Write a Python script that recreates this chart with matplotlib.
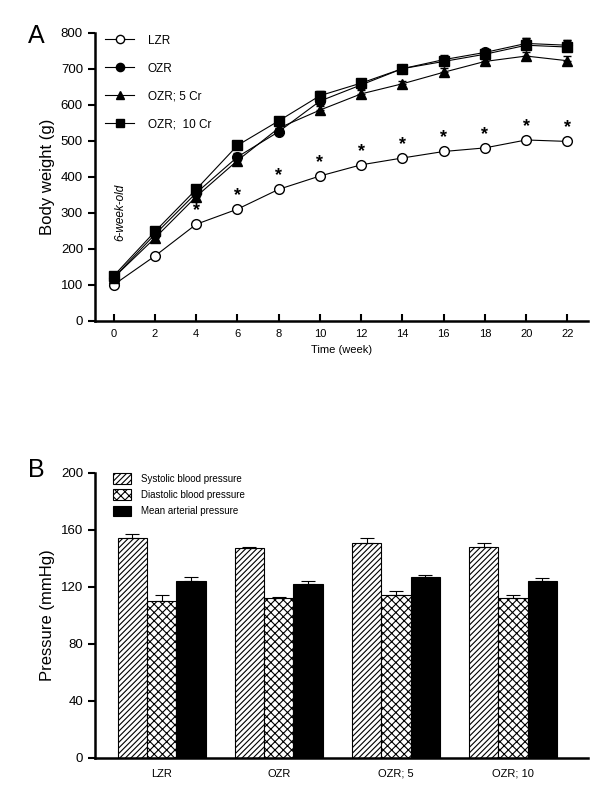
import numpy as np
import matplotlib
matplotlib.use("Agg")
import matplotlib.pyplot as plt

plt.rcParams['font.family'] = ['Liberation Sans', 'DejaVu Sans']
plt.rcParams['hatch.linewidth'] = 0.8

# panel A data: body weight (g) over time
weeks = [0, 2, 4, 6, 8, 10, 12, 14, 16, 18, 20, 22]
lzr = [100, 180, 268, 310, 365, 402, 433, 452, 470, 480, 502, 498]
ozr = [120, 240, 355, 455, 525, 610, 655, 700, 725, 745, 770, 765]
ozr5 = [120, 230, 345, 445, 535, 585, 630, 658, 690, 720, 735, 722]
ozr10 = [125, 248, 365, 487, 555, 625, 660, 700, 720, 740, 765, 760]
lzr_err = [5, 6, 6, 6, 6, 6, 6, 6, 6, 6, 8, 8]
ozr_err = [8, 8, 10, 10, 10, 12, 10, 8, 12, 10, 15, 15]
ozr5_err = [8, 8, 10, 10, 10, 12, 10, 8, 12, 10, 12, 12]
ozr10_err = [8, 8, 10, 10, 10, 12, 10, 8, 15, 10, 20, 20]
star_weeks = [2, 4, 6, 8, 10, 12, 14, 16, 18, 20, 22]

# panel B data: blood pressure (mmHg)
groups = ['LZR', 'OZR', 'OZR; 5', 'OZR; 10']
systolic = [154, 147, 151, 148]
diastolic = [110, 112, 114, 112]
mean_ap = [124, 122, 127, 124]
systolic_err = [3, 1, 3, 2.5]
diastolic_err = [4, 1, 3, 2]
mean_err = [3, 2, 1, 2]

fig = plt.figure(figsize=(6, 7.96), dpi=100)

# ---- panel A
ax1 = fig.add_axes([0.158, 0.597, 0.822, 0.362])
series = [
    (lzr, lzr_err, 'o', 'white', 'LZR'),
    (ozr, ozr_err, 'o', 'black', 'OZR'),
    (ozr5, ozr5_err, '^', 'black', 'OZR; 5 Cr'),
    (ozr10, ozr10_err, 's', 'black', 'OZR;  10 Cr'),
]
handles = []
labels = []
for vals, err, mk, fc, lab in series:
    c = ax1.errorbar(weeks, vals, yerr=[np.zeros(len(err)), err], color='black',
                     marker=mk, mfc=fc, mec='black', ms=7, lw=0.8,
                     capsize=3, elinewidth=0.8)
    handles.append(c[0])
    labels.append(lab)

star_offset = 38
for w in star_weeks:
    i = weeks.index(w)
    ax1.text(w, lzr[i] + star_offset, '*', ha='center', va='center',
             fontsize=13, fontweight='bold')

ax1.text(0.3, 300, '6-week-old', rotation=90, ha='center', va='center',
         fontsize=8.5, style='italic')

ax1.set_xlim(-0.92, 23)
ax1.set_ylim(0, 800)
ax1.set_xticks(weeks)
ax1.set_yticks(range(0, 801, 100))
ax1.tick_params(axis='x', direction='in', length=5, width=1.5, labelsize=8, pad=6)
ax1.tick_params(axis='y', direction='out', length=5, width=1.5, labelsize=9.5)
for s in ['top', 'right']:
    ax1.spines[s].set_visible(False)
for s in ['left', 'bottom']:
    ax1.spines[s].set_linewidth(1.8)
ax1.set_xlabel('Time (week)', fontsize=8)
ax1.set_ylabel('Body weight (g)', fontsize=12)
ax1.legend(handles, labels, loc='upper left', bbox_to_anchor=(0.0, 1.03),
           frameon=False, fontsize=8.5, handlelength=2.4, labelspacing=1.35,
           handletextpad=1.2, numpoints=1, markerscale=0.85)
fig.text(0.06, 0.955, 'A', fontsize=18, ha='center', va='center')

# ---- panel B
ax2 = fig.add_axes([0.158, 0.048, 0.822, 0.358])
x = np.arange(len(groups))
w = 0.25
ax2.bar(x - w, systolic, w, color='white', edgecolor='black', hatch='//////',
        lw=0.8, label='Systolic blood pressure')
ax2.bar(x, diastolic, w, color='white', edgecolor='black', hatch='xxxx',
        lw=0.8, label='Diastolic blood pressure')
ax2.bar(x + w, mean_ap, w, color='black', edgecolor='black',
        lw=0.8, label='Mean arterial pressure')
for off, vals, err in [(-w, systolic, systolic_err), (0, diastolic, diastolic_err),
                       (w, mean_ap, mean_err)]:
    ax2.errorbar(x + off, vals, yerr=[np.zeros(len(err)), err], fmt='none',
                 ecolor='black', elinewidth=0.8, capsize=5, capthick=0.8)

ax2.set_xlim(-0.57, 3.64)
ax2.set_ylim(0, 200)
ax2.set_yticks(range(0, 201, 40))
ax2.set_xticks(x)
ax2.set_xticklabels(groups)
ax2.tick_params(axis='x', length=0, labelsize=8, pad=8)
ax2.tick_params(axis='y', direction='out', length=5, width=1.5, labelsize=9.5)
for s in ['top', 'right']:
    ax2.spines[s].set_visible(False)
for s in ['left', 'bottom']:
    ax2.spines[s].set_linewidth(1.8)
ax2.set_ylabel('Pressure (mmHg)', fontsize=12)
ax2.legend(loc='upper left', bbox_to_anchor=(0.02, 1.03), frameon=False,
           fontsize=7, handlelength=1.8, handleheight=1.3, labelspacing=0.6,
           handletextpad=1.0)
fig.text(0.06, 0.41, 'B', fontsize=18, ha='center', va='center')

fig.savefig('out.png', dpi=100)
